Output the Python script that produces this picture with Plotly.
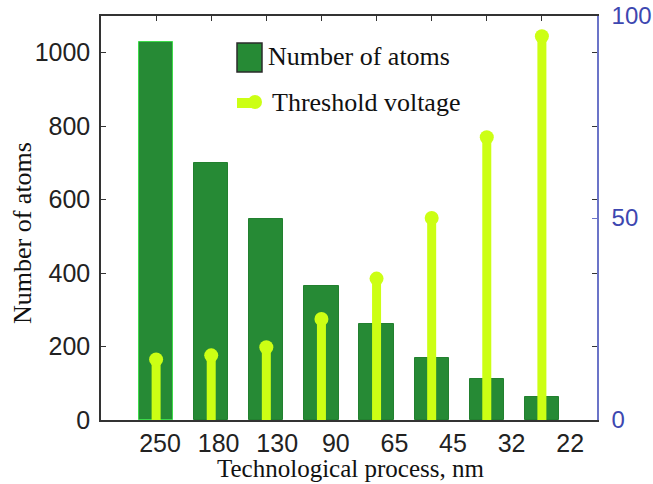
import plotly.graph_objects as go

# ---- data ----
processes = ["250", "180", "130", "90", "65", "45", "32", "22"]
atoms = [1030, 700, 548, 364, 261, 170, 112, 62]
threshold_voltage = [15, 16, 18, 25, 35, 50, 70, 95]
left_ticks = [0, 200, 400, 600, 800, 1000]
right_ticks = [0, 50, 100]

# ---- styling ----
BAR_COLOR = "#268a35"
STEM_COLOR = "#ccff14"
AXIS_COLOR = "#333333"
RIGHT_COLOR = "#3d47b0"
RIGHT_LINE = "#6b74c8"
SANS = "Liberation Sans, Arial"
SERIF = "Liberation Serif, Times New Roman, serif"

idx = list(range(len(processes)))

fig = go.Figure()

fig.add_trace(go.Bar(
    x=idx, y=atoms, width=0.62,
    marker=dict(color=BAR_COLOR,
                line=dict(color=["#3ddc4a"] + ["#22802f"] * (len(idx) - 1), width=1)),
    name="Number of atoms", showlegend=False, yaxis="y", xaxis="x",
))

stem_x, stem_y = [], []
for i, v in zip(idx, threshold_voltage):
    stem_x += [i, i, None]
    stem_y += [0, v, None]

fig.add_trace(go.Scatter(
    x=stem_x, y=stem_y, mode="lines", yaxis="y2", xaxis="x",
    line=dict(color=STEM_COLOR, width=9), showlegend=False, hoverinfo="skip",
))
fig.add_trace(go.Scatter(
    x=idx, y=threshold_voltage, mode="markers", yaxis="y2", xaxis="x",
    marker=dict(color=STEM_COLOR, size=14), name="Threshold voltage", showlegend=False,
))

# dummy trace on xaxis2 so the axis renders
fig.add_trace(go.Scatter(x=[None], y=[None], xaxis="x2", yaxis="y",
                         showlegend=False, hoverinfo="skip"))

# ---- manual legend (paper coordinates) ----
def px(xp):
    return (xp - 101) / 496

def py(yp):
    return (420 - yp) / 404

shapes = [
    dict(type="rect", xref="paper", yref="paper",
         x0=px(237), x1=px(262), y0=py(72), y1=py(43),
         fillcolor=BAR_COLOR, line=dict(color="#2b2b2b", width=1.5)),
    dict(type="line", xref="paper", yref="paper",
         x0=px(237), x1=px(254), y0=py(103), y1=py(103),
         line=dict(color=STEM_COLOR, width=10)),
    dict(type="circle", xref="paper", yref="paper",
         x0=px(248), x1=px(262), y0=py(109), y1=py(95),
         fillcolor=STEM_COLOR, line=dict(color=STEM_COLOR, width=0)),
]

annotations = [
    dict(text="Number of atoms", xref="paper", yref="paper", x=px(266), y=py(57),
         xanchor="left", yanchor="middle", showarrow=False,
         font=dict(family=SERIF, size=26, color="#111111")),
    dict(text="Threshold voltage", xref="paper", yref="paper", x=px(270), y=py(103),
         xanchor="left", yanchor="middle", showarrow=False,
         font=dict(family=SERIF, size=26, color="#111111")),
    dict(text="Number of atoms", xref="paper", yref="paper", x=px(22), y=py(233),
         xanchor="center", yanchor="middle", textangle=-90, showarrow=False,
         font=dict(family=SERIF, size=26, color="#111111")),
    dict(text="Technological process, nm", xref="paper", yref="paper", x=px(350), y=py(468),
         xanchor="center", yanchor="middle", showarrow=False,
         font=dict(family=SERIF, size=25, color="#111111")),
]

fig.update_layout(
    width=653, height=484,
    margin=dict(l=101, r=56, t=16, b=64, autoexpand=False),
    paper_bgcolor="white", plot_bgcolor="white",
    showlegend=False,
    bargap=0,
    xaxis=dict(range=[-1, 8], side="top", showticklabels=False,
               tickvals=idx, ticks="inside", ticklen=5, tickcolor=AXIS_COLOR,
               showline=True, linecolor=AXIS_COLOR, linewidth=1.5,
               showgrid=False, zeroline=False, automargin=False),
    xaxis2=dict(overlaying="x", side="bottom", range=[-1.007, 7.457],
                tickvals=idx, ticktext=processes, ticks="",
                tickfont=dict(family=SANS, size=25, color="#222222"),
                showline=True, linecolor=AXIS_COLOR, linewidth=1.5,
                showgrid=False, zeroline=False, automargin=False, ticklabelstandoff=0),
    yaxis=dict(range=[0, 1100], tickvals=left_ticks, ticks="inside", ticklen=5,
               tickcolor=AXIS_COLOR, mirror="ticks", showline=True,
               linecolor=AXIS_COLOR, linewidth=1.5,
               tickfont=dict(family=SANS, size=25, color="#222222"),
               showgrid=False, zeroline=False, ticklabelstandoff=4, automargin=False),
    yaxis2=dict(range=[0, 100], overlaying="y", side="right", tickvals=right_ticks,
                ticks="inside", ticklen=5, tickcolor=RIGHT_LINE, showline=True,
                linecolor=RIGHT_LINE, linewidth=1.5,
                tickfont=dict(family=SANS, size=24, color=RIGHT_COLOR),
                showgrid=False, zeroline=False, ticklabelstandoff=8, automargin=False),
    shapes=shapes,
    annotations=annotations,
)

fig.write_html("out.html", config={"displayModeBar": False},
               post_script="document.body.style.margin='0';document.body.style.overflow='hidden';")
